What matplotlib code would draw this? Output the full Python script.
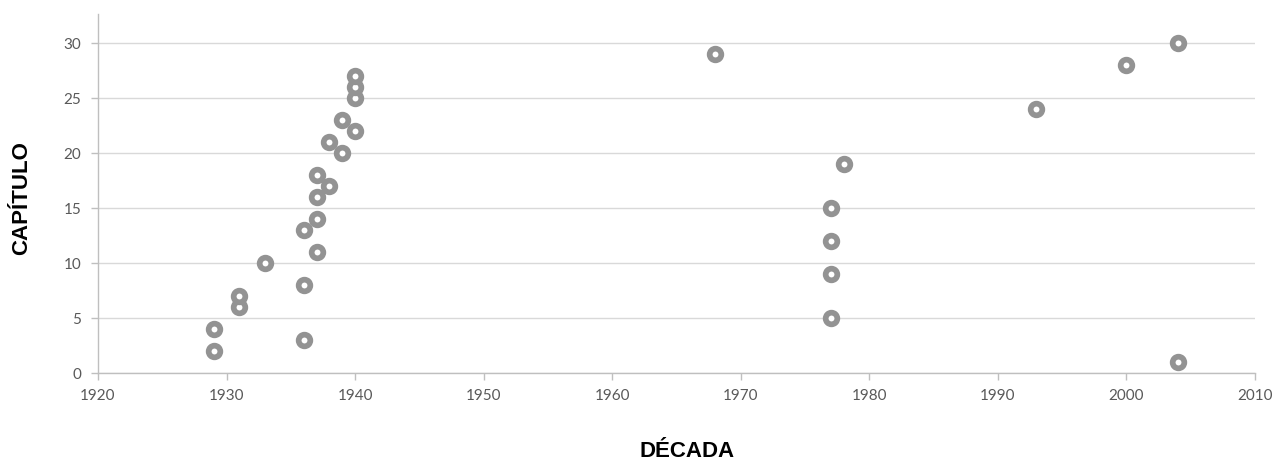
import matplotlib.pyplot as plt

# capítulo y década de cada uno
capitulos = [1, 2, 3, 4, 5, 6, 7, 8, 9, 10,
             11, 12, 13, 14, 15, 16, 17, 18, 19, 20,
             21, 22, 23, 24, 25, 26, 27, 28, 29, 30]
decadas = [2004, 1929, 1936, 1929, 1977, 1931, 1931, 1936, 1977, 1933,
           1937, 1977, 1936, 1937, 1977, 1937, 1938, 1937, 1978, 1939,
           1938, 1940, 1939, 1993, 1940, 1940, 1940, 2000, 1968, 2004]

x_ticks = [1920, 1930, 1940, 1950, 1960, 1970, 1980, 1990, 2000, 2010]
y_ticks = [0, 5, 10, 15, 20, 25, 30]

fig = plt.figure(figsize=(12.76, 4.6), dpi=100)
ax = fig.add_axes([0.0768, 0.187, 0.9067, 0.780])

ax.plot(decadas, capitulos, linestyle='none', marker='o', markersize=8.4,
        markerfacecolor='white', markeredgecolor='#939393',
        markeredgewidth=4.1, zorder=3, clip_on=False)

ax.set_xlim(1920, 2010)
ax.set_ylim(0, 32.6)
ax.set_xticks(x_ticks)
ax.set_yticks(y_ticks)

ax.grid(axis='y', color='#d9d9d9', linewidth=1)
ax.set_axisbelow(True)
for lado in ['top', 'right']:
    ax.spines[lado].set_visible(False)
for lado in ['left', 'bottom']:
    ax.spines[lado].set_color('#bfbfbf')
    ax.spines[lado].set_linewidth(1)

ax.tick_params(axis='both', colors='#bfbfbf', length=5, width=1,
               labelcolor='#595959', labelsize=11)
ax.tick_params(axis='x', pad=6)
ax.tick_params(axis='y', pad=7)
for etiqueta in ax.get_xticklabels() + ax.get_yticklabels():
    etiqueta.set_family('Lato')

ax.set_xlabel('DÉCADA', family='Liberation Sans', fontweight='bold',
              fontsize=16, color='black')
ax.set_ylabel('CAPÍTULO', family='Liberation Sans', fontweight='bold',
              fontsize=16, color='black')
ax.xaxis.set_label_coords(0.509, -0.186)
ax.yaxis.set_label_coords(-0.057, 0.49)

fig.savefig('out.png', dpi=100)
